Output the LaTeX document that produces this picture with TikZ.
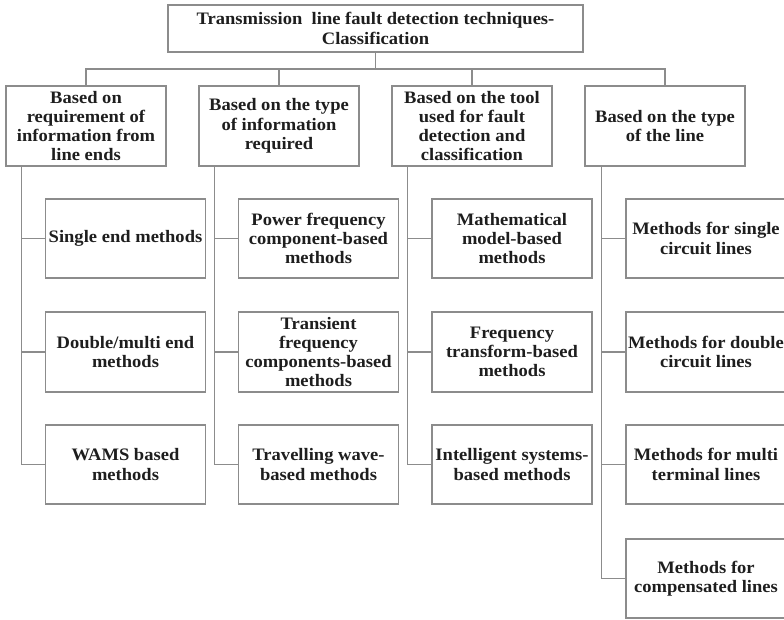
\documentclass[tikz,border=0pt]{standalone}
\usepackage{fontspec}
\setmainfont{Liberation Serif}[FakeStretch=1.06]
\definecolor{linegray}{HTML}{8C8C8C}
\definecolor{txt}{HTML}{1E1E1E}
\tikzset{
  box/.style={draw=linegray, line width=1.3pt, minimum width=160pt, minimum height=80pt,
    align=center, inner sep=0pt, text=txt,
    font=\fontsize{17.5pt}{19.3pt}\selectfont\bfseries},
  topbox/.style={box, minimum width=415pt, minimum height=47pt},
  conn/.style={draw=linegray, line width=1.3pt}
}
\begin{document}
\begin{tikzpicture}[x=1pt,y=-1pt]
\clip (0,0) rectangle (784,619);
\useasboundingbox (0,0) rectangle (784,619);
\node[topbox] (top) at (375.5,28.5) {Transmission\ \ line fault detection techniques-\\Classification};
\node[box] (A) at (86,126) {Based on\\requirement of\\information from\\line ends};
\node[box] (B) at (279,126) {Based on the type\\of information\\required};
\node[box] (C) at (472,126) {Based on the tool\\used for fault\\detection and\\classification};
\node[box] (D) at (665,126) {Based on the type\\of the line};
\node[box, minimum height=79pt] (A1) at (125.5,238.5) {Single end methods};
\node[box] (A2) at (125.5,352) {Double/multi end\\methods};
\node[box, minimum height=79pt] (A3) at (125.5,464.5) {WAMS based\\methods};
\node[box, minimum height=79pt] (B1) at (318.5,238.5) {Power frequency\\component-based\\methods};
\node[box] (B2) at (318.5,352) {Transient\\frequency\\components-based\\methods};
\node[box, minimum height=79pt] (B3) at (318.5,464.5) {Travelling wave-\\based methods};
\node[box, minimum height=79pt] (C1) at (512,238.5) {Mathematical\\model-based\\methods};
\node[box] (C2) at (512,352) {Frequency\\transform-based\\methods};
\node[box, minimum height=79pt] (C3) at (512,464.5) {Intelligent systems-\\based methods};
\node[box, minimum height=79pt] (D1) at (706,238.5) {Methods for single\\circuit lines};
\node[box] (D2) at (706,352) {Methods for double\\circuit lines};
\node[box, minimum height=79pt] (D3) at (706,464.5) {Methods for multi\\terminal lines};
\node[box, minimum height=79pt] (D4) at (706,578.5) {Methods for\\compensated lines};
\coordinate (bar) at (0,69);
\draw[conn] (top.south) -- (top.south |- bar) -| (A.north);
\draw[conn] (top.south |- bar) -| (B.north);
\draw[conn] (top.south |- bar) -| (C.north);
\draw[conn] (top.south |- bar) -| (D.north);
\foreach \p in {A,B,C}{
  \foreach \i in {1,2,3}{
    \draw[conn] ([xshift=16pt]\p.south west) |- (\p\i.west);
  }
}
\foreach \i in {1,2,3,4}{
  \draw[conn] ([xshift=17pt]D.south west) |- (D\i.west);
}
\end{tikzpicture}
\end{document}
